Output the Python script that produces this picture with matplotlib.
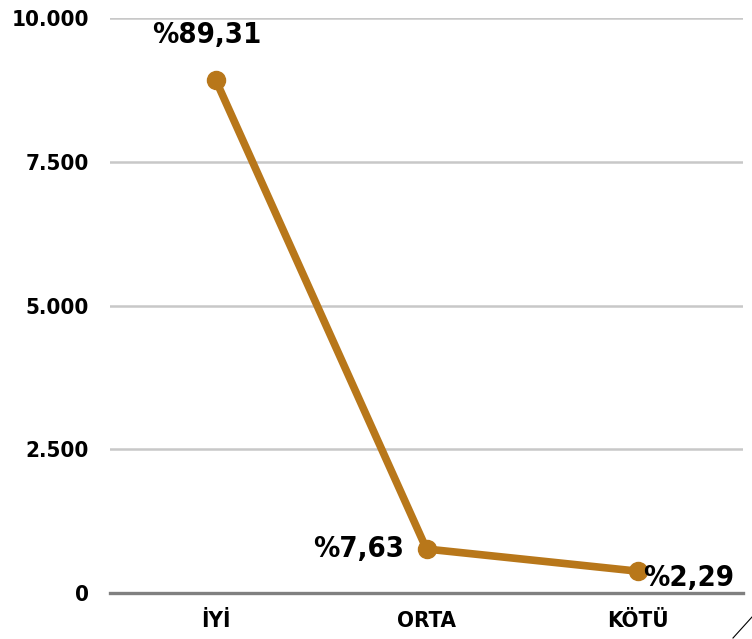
import matplotlib
matplotlib.use("Agg")
import matplotlib.pyplot as plt
from matplotlib.lines import Line2D

categories = ["İYİ", "ORTA", "KÖTÜ"]
values = [8930, 765, 380]
pct_labels = ["%89,31", "%7,63", "%2,29"]
yticks = [0, 2500, 5000, 7500, 10000]
ytick_labels = ["0", "2.500", "5.000", "7.500", "10.000"]

plt.rcParams['font.family'] = ['DejaVu Sans']
plt.rcParams['font.stretch'] = 'condensed'

fig = plt.figure(figsize=(7.52, 6.39), dpi=100)
ax = fig.add_axes([110/752, 46/639, 633/752, 575/639])
x = list(range(len(categories)))
color = "#B8771A"
ax.plot(x, values, color=color, lw=5.5, marker="o", ms=13, solid_capstyle="round", zorder=3)

ax.set_xlim(-0.5, 2.5)
ax.set_ylim(0, 10000)
ax.set_yticks(yticks)
ax.set_yticklabels(ytick_labels, fontsize=16, fontweight="bold", fontstretch="condensed")
ax.set_xticks(x)
ax.set_xticklabels(categories, fontsize=16, fontweight="bold", fontstretch="condensed")
ax.tick_params(axis="both", length=0)
ax.tick_params(axis="y", pad=15)
ax.tick_params(axis="x", pad=13)
for s in ax.spines.values():
    s.set_visible(False)
for t in yticks[1:]:
    ax.axhline(t, color="#c8c8c8", lw=1.8, zorder=1)
ax.axhline(0, color="#808080", lw=2.4, zorder=2, clip_on=False)

offsets = [(-6, 32, "center", "center"), (-16, 0, "right", "center"), (4, -5, "left", "center")]
for xi, v, lab, (dx, dy, ha, va) in zip(x, values, pct_labels, offsets):
    ax.annotate(lab, (xi, v), xytext=(dx, dy), textcoords="offset points",
                ha=ha, va=va, fontsize=21, fontweight="bold", fontstretch="condensed", zorder=4)

fig.add_artist(Line2D([733/752, 1.0], [1/639, 22/639], color="black", lw=0.8,
                      transform=fig.transFigure))

fig.savefig("out.png", dpi=100)
